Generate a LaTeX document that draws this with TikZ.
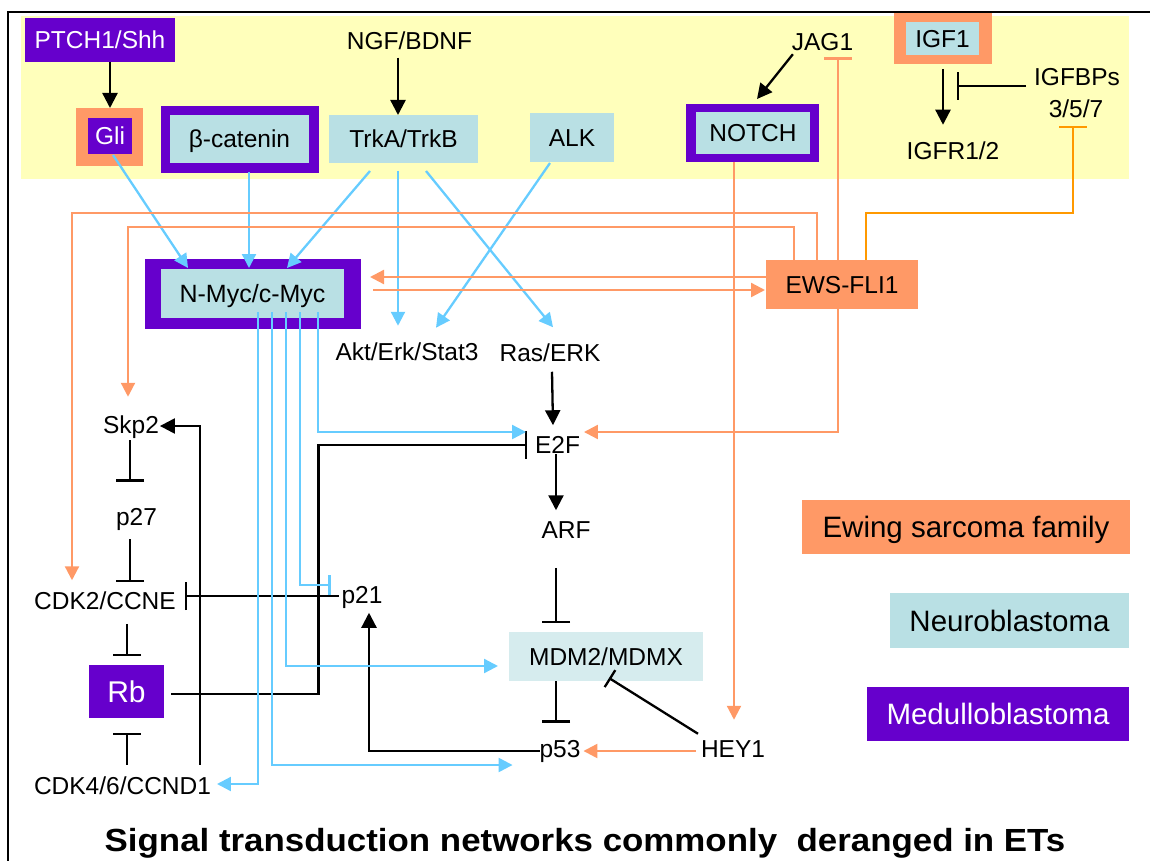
\documentclass[tikz,border=0pt]{standalone}
\usepackage{fontspec}
\usepackage{graphicx}
\setmainfont{Liberation Sans}
\usetikzlibrary{arrows.meta,calc}

\definecolor{mbpurple}{RGB}{102,0,204}
\definecolor{esorange}{RGB}{255,153,102}
\definecolor{nbblue}{RGB}{185,224,228}
\definecolor{mdmfill}{RGB}{214,236,238}
\definecolor{bgyellow}{RGB}{255,255,187}
\definecolor{skyline}{RGB}{102,204,255}
\definecolor{ambline}{RGB}{255,153,0}

\tikzset{
  lbl/.style={inner sep=0pt, outer sep=0pt, text height=17.5pt, text depth=0pt,
              font=\fontsize{24.5}{29}\selectfont},
  leg/.style={inner sep=0pt, outer sep=0pt, text height=21pt, text depth=0pt,
              font=\fontsize{29.5}{34}\selectfont},
  plate/.style={inner sep=0pt, outer sep=0pt},
  bk/.style={draw=black, line width=2.3pt},
  blu/.style={draw=skyline, line width=2.3pt},
  org/.style={draw=esorange, line width=2.3pt},
  amb/.style={draw=ambline, line width=2.3pt},
  act/.style={-{Triangle[length=14pt,width=14pt]}},
  bact/.style={-{Triangle[length=15pt,width=15pt]}},
  inh/.style={-{Bar[width=28pt]}},
  inhs/.style={-{Bar[width=20pt]}}
}

\begin{document}
\begin{tikzpicture}[x=1pt,y=-1pt]
\useasboundingbox (0,0) rectangle (1150,861);

% frame and membrane band
\draw[line width=1.8pt] (8,861) -- (8,12) -- (1150,12);
\fill[bgyellow] (21,16) rectangle (1129,179);

% ---- receptors and ligands ----
\node[lbl, fill=mbpurple, text=white, minimum width=150pt, minimum height=44pt] (ptch) at (100,40) {PTCH1/Shh};

\node[plate, fill=esorange, minimum width=67pt, minimum height=58pt] (gli) at (109.5,137) {};
\node[lbl, fill=mbpurple, text=white, minimum width=44pt, minimum height=36pt] (gliin) at (110,136) {Gli};

\node[plate, fill=mbpurple, minimum width=158pt, minimum height=67pt] (bcat) at (240,139.5) {};
\node[lbl, fill=nbblue, minimum width=139pt, minimum height=48pt] (bcatin) at (239.5,139) {β-catenin};

\node[lbl] (ngf) at (409.5,41) {NGF/BDNF};
\node[lbl, fill=nbblue, minimum width=149pt, minimum height=48pt] (trk) at (403.5,139) {TrkA/TrkB};
\node[lbl, fill=nbblue, minimum width=84pt, minimum height=49pt] (alk) at (572,137.5) {ALK};

\node[lbl] (jag) at (822.5,41.5) {JAG1};
\node[plate, fill=mbpurple, minimum width=133pt, minimum height=58pt] (notch) at (752.5,133) {};
\node[lbl, fill=nbblue, minimum width=114pt, minimum height=42pt] (notchin) at (753,133) {NOTCH};

\node[plate, fill=esorange, minimum width=98pt, minimum height=51pt] (igf) at (943,38.5) {};
\node[lbl, fill=nbblue, minimum width=73pt, minimum height=33pt] (igfin) at (942.5,38.5) {IGF1};
\node[lbl] (igfr) at (953,150.5) {IGFR1/2};
\node[lbl] (igfbp) at (1077,77) {IGFBPs};
\node[lbl] (igfbpn) at (1076,109) {3/5/7};

% ---- intracellular nodes ----
\node[plate, fill=mbpurple, minimum width=216pt, minimum height=70pt] (myc) at (253,294) {};
\node[lbl, fill=nbblue, minimum width=183pt, minimum height=49pt, font=\fontsize{25}{29}\selectfont] (mycin) at (252.5,293.5) {N-Myc/c-Myc};

\node[lbl, fill=esorange, minimum width=152pt, minimum height=49pt] (ews) at (842,284.5) {EWS-FLI1};

\node[lbl] (akt) at (407,351.5) {Akt/Erk/Stat3};
\node[lbl] (ras) at (550,353) {Ras/ERK};
\node[lbl] (e2f) at (557.5,445) {E2F};
\node[lbl] (arf) at (566,530) {ARF};
\node[lbl, fill=mdmfill, minimum width=194pt, minimum height=49pt] (mdm) at (606,656.5) {MDM2/MDMX};
\node[lbl] (p53) at (560,748.5) {p53};
\node[lbl] (hey) at (733,748.5) {HEY1};
\node[lbl] (p21) at (362,595) {p21};

\node[lbl] (skp2) at (131,424.5) {Skp2};
\node[lbl] (p27) at (136.5,516.5) {p27};
\node[lbl] (cdk2) at (105,601) {CDK2/CCNE};
\node[lbl, fill=mbpurple, text=white, minimum width=75pt, minimum height=53pt,
      text height=21.5pt, font=\fontsize{30}{34}\selectfont] (rb) at (126.5,691.5) {Rb};
\node[lbl] (cdk4) at (122.5,785.5) {CDK4/6/CCND1};

% ---- legend ----
\node[leg, fill=esorange, minimum width=328pt, minimum height=54pt] (les) at (966,527) {Ewing sarcoma family};
\node[leg, fill=nbblue, minimum width=239pt, minimum height=55pt] (lnb) at (1009.5,620.5) {Neuroblastoma};
\node[leg, fill=mbpurple, text=white, minimum width=262pt, minimum height=54pt] (lmb) at (998,714) {Medulloblastoma};

% ---- title ----
\node[inner sep=0pt, anchor=base, font=\bfseries\fontsize{32}{36}\selectfont] (title) at (585,851)
  {\scalebox{1.09}[1]{Signal transduction networks commonly~~deranged in ETs}};

% ---- black connectors ----
\draw[bk,bact] (ptch.south -| gliin) -- (gli.north -| gliin);
\draw[bk,bact] ($(ngf.south)+(-11.5,8)$) -- ($(trk.north)+(-5.5,0)$);
\draw[bk,bact] ($(jag.south west)+(1,4)$) -- ($(notch.north)+(4.5,-5)$);
\draw[bk,bact] ($(igf.south)+(0,5)$) -- ($(igfr.north)+(-10,-17)$);
\draw[bk,inh] ($(igfbp.west)+(-8,9)$) -- ($(igf.south)+(14,22)$);

\draw[bk,inh] ($(rb.east)+(7,2.5)$) -- ++(147.5,0) |- ($(e2f.west)+(-8,0)$);
\draw[bk,bact] ($(p53.west)+(0,2.5)$) -| ($(p21.south)+(7,9)$);
\draw[bk,inh] ($(p21.west)+(-3,1)$) -- ($(cdk2.east)+(9,-5)$);
\draw[bk,bact] ($(cdk4.north)+(77.5,-12)$) |- ($(skp2.east)+(1,1.5)$);
\draw[bk,inh] ($(skp2.south)+(-1,7)$) -- ($(p27.north)+(-6.5,-26)$);
\draw[bk,inh] ($(p27.south)+(-6.5,14)$) -- ($(cdk2.north)+(25,-10)$);
\draw[bk,inh] ($(cdk2.south)+(22,14)$) -- ($(rb.north)+(0.5,-9)$);
\draw[bk,inh] ($(cdk4.north)+(4.5,-12)$) -- ($(rb.south)+(0.5,15)$);
\draw[bk,bact] ($(ras.south)+(2,10)$) -- ($(e2f.north)+(-4.5,-11)$);
\draw[bk,bact] ($(e2f.south)+(-1.5,0)$) -- ($(arf.north)+(-10,-11)$);
\draw[bk,inh] ($(arf.south)+(-10,29)$) -- ($(mdm.north)+(-50,-9)$);
\draw[bk,inh] ($(mdm.south)+(-50,0)$) -- ($(p53.north)+(-4,-17)$);
\draw[bk,inhs] ($(hey.north west)+(-3,-6)$) -- ($(mdm.south)+(3,-3)$);

% ---- blue connectors ----
\draw[blu,act] ($(gliin.south)+(3,1)$) -- ($(mycin.north)+(-64.5,-1)$);
\draw[blu,act] ($(bcat.south)+(9,-1)$) -- ($(mycin.north)+(-3.5,-1)$);
\draw[blu,act] ($(trk.south)+(-33.5,8)$) -- ($(mycin.north)+(34.5,-1)$);
\draw[blu,act] ($(trk.south)+(-5.5,8)$) -- ($(akt.north)+(-9,-17)$);
\draw[blu,act] ($(trk.south)+(22.5,8)$) -- ($(ras.north)+(3,-17)$);
\draw[blu,act] ($(alk.south)+(-22,1)$) -- ($(akt.north)+(29,-15)$);

\draw[blu,act] ($(mycin.south)+(65.5,-6)$) |- ($(e2f.west)+(-9,-13)$);
\draw[blu,inhs] ($(mycin.south)+(47.5,-6)$) |- ($(p21.west)+(-11,-10)$);
\draw[blu,act] ($(mycin.south)+(33.5,-6)$) |- ($(mdm.west)+(-11,9.5)$);
\draw[blu,act] ($(mycin.south)+(19.5,-6)$) |- ($(p53.west)+(-27,16.5)$);
\draw[blu,act] ($(mycin.south)+(5.5,-6)$) |- ($(cdk4.east)+(6,-1.5)$);

% ---- orange connectors ----
\draw[org,act] ($(ews.west)+(0,-7.5)$) -- ($(myc.east)+(9,-17)$);
\draw[org,act] ($(myc.east)+(12,-4)$) -- ($(ews.west)+(-1,5.5)$);
\draw[org,act] ($(ews.north west)+(28,0)$) |- ($(skp2.north)+(-3,-189)$) -- ($(skp2.north)+(-3,-19)$);
\draw[org,act] ($(ews.north west)+(51,0)$) |- ($(cdk2.north)+(-33,-379)$) -- ($(cdk2.north)+(-33,-12)$);
\draw[org,inh] ($(ews.north west)+(72,0)$) -- ($(jag.south)+(15.5,7)$);
\draw[org,act] ($(ews.south west)+(72,0)$) |- ($(e2f.east)+(4,-13)$);
\draw[org,act] ($(notch.south)+(-18.5,0)$) -- ($(hey.north)+(1,-20)$);
\draw[org,act] ($(hey.west)+(-5,2.5)$) -- ($(p53.east)+(3,2.5)$);
\draw[amb,inh] ($(ews.north west)+(100,0)$) -- ++(0,-47) -| ($(igfbpn.south)+(-3,8)$);

\end{tikzpicture}
\end{document}
